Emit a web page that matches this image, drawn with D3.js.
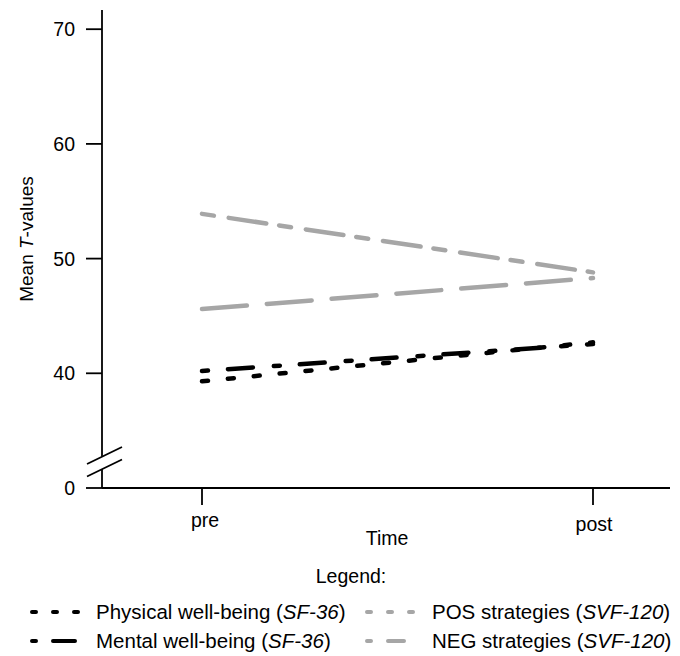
<!DOCTYPE html>
<html>
<head>
<meta charset="utf-8">
<script src="https://cdn.jsdelivr.net/npm/d3@7"></script>
<style>
  body { margin: 0; background: #fff; }
  svg { display: block; font-family: "Liberation Sans", Arial, sans-serif; }
</style>
</head>
<body>
<svg id="chart" width="680" height="656"></svg>
<script>
// data
const times = ["pre", "post"];
const seriesNames = ["Physical well-being", "Mental well-being", "POS strategies", "NEG strategies"];
const seriesInstr = ["SF-36", "SF-36", "SVF-120", "SVF-120"];
const physical = [39.3, 42.7];
const mental = [40.2, 42.55];
const posStrat = [45.6, 48.3];
const negStrat = [53.9, 48.8];
const yTicks = [30, 40, 50, 60, 70];
const yTickLabels = ["0", "40", "50", "60", "70"];

const svg = d3.select("#chart");
const black = "#000";
const grey = "#a6a6a6";

const x = d3.scalePoint().domain(times).range([202, 593]);
const y = d3.scaleLinear().domain([30, 70]).range([488, 29.2]);

const axisX0 = 102;
const axisW = 1.8;

// y axis line with a break
svg.append("line")
    .attr("x1", axisX0).attr("x2", axisX0)
    .attr("y1", 10).attr("y2", 488)
    .attr("stroke", black).attr("stroke-width", axisW);
svg.append("polygon") // gap between break marks
    .attr("points", "95,460 110,452 110,465 95,473")
    .attr("fill", "#fff");
[0, 12.5].forEach(off => {
    svg.append("line")
        .attr("x1", 87).attr("y1", 464 + off)
        .attr("x2", 122).attr("y2", 447 + off)
        .attr("stroke", black).attr("stroke-width", axisW);
});

// y ticks
yTicks.forEach((t, i) => {
    svg.append("line")
        .attr("x1", 86).attr("x2", axisX0)
        .attr("y1", y(t)).attr("y2", y(t))
        .attr("stroke", black).attr("stroke-width", axisW);
    svg.append("text")
        .attr("x", 75).attr("y", y(t))
        .attr("text-anchor", "end")
        .attr("dominant-baseline", "central")
        .style("font-size", "19.5px")
        .text(yTickLabels[i]);
});

// x axis
svg.append("line")
    .attr("x1", axisX0).attr("x2", 670)
    .attr("y1", 488).attr("y2", 488)
    .attr("stroke", black).attr("stroke-width", axisW);
times.forEach((t, i) => {
    svg.append("line")
        .attr("x1", x(t)).attr("x2", x(t))
        .attr("y1", 488).attr("y2", 505)
        .attr("stroke", black).attr("stroke-width", axisW);
    svg.append("text")
        .attr("x", x(t) + (i === 0 ? 3 : 1))
        .attr("y", i === 0 ? 527 : 531)
        .attr("text-anchor", "middle")
        .style("font-size", "19.5px")
        .text(t);
});

svg.append("text")
    .attr("x", 387).attr("y", 545)
    .attr("text-anchor", "middle")
    .style("font-size", "19.5px")
    .text("Time");

// y axis title
const yt = svg.append("text")
    .attr("transform", "translate(33,239) rotate(-90)")
    .attr("text-anchor", "middle")
    .style("font-size", "19px");
yt.append("tspan").text("Mean ");
yt.append("tspan").style("font-style", "italic").text("T");
yt.append("tspan").text("-values");

// lines
const line = d3.line()
    .x((d, i) => x(times[i]))
    .y(d => y(d));

const series = [
    { vals: physical, color: black, dash: "6,20" },
    { vals: mental, color: black, dash: "6,20,25,21" },
    { vals: posStrat, color: grey, dash: "45,20" },
    { vals: negStrat, color: grey, dash: "12,15,38,13" }
];

series.forEach(s => {
    svg.append("path")
        .datum(s.vals)
        .attr("d", line)
        .attr("fill", "none")
        .attr("stroke", s.color)
        .attr("stroke-width", 4.5)
        .attr("stroke-linecap", "round")
        .attr("stroke-dasharray", s.dash);
});

// legend
svg.append("text")
    .attr("x", 351).attr("y", 583)
    .attr("text-anchor", "middle")
    .style("font-size", "19.5px")
    .text("Legend:");

const legendItems = [
    { col: 0, row: 0, color: black, dash: "4,17" },
    { col: 0, row: 1, color: black, dash: "4,17,22,100" },
    { col: 1, row: 0, color: grey, dash: "4,17" },
    { col: 1, row: 1, color: grey, dash: "4,17,16,100" }
];
const colX = [32, 367];
const colText = [96, 432];
const rowY = [612, 641];

legendItems.forEach((d, i) => {
    svg.append("line")
        .attr("x1", colX[d.col]).attr("x2", colX[d.col] + 46)
        .attr("y1", rowY[d.row]).attr("y2", rowY[d.row])
        .attr("stroke", d.color)
        .attr("stroke-width", 4)
        .attr("stroke-linecap", "round")
        .attr("stroke-dasharray", d.dash);
    const t = svg.append("text")
        .attr("x", colText[d.col]).attr("y", rowY[d.row] + 7)
        .style("font-size", "20.5px");
    t.append("tspan").text(seriesNames[i] + " (");
    t.append("tspan").style("font-style", "italic").text(seriesInstr[i]);
    t.append("tspan").text(")");
});
</script>
</body>
</html>
